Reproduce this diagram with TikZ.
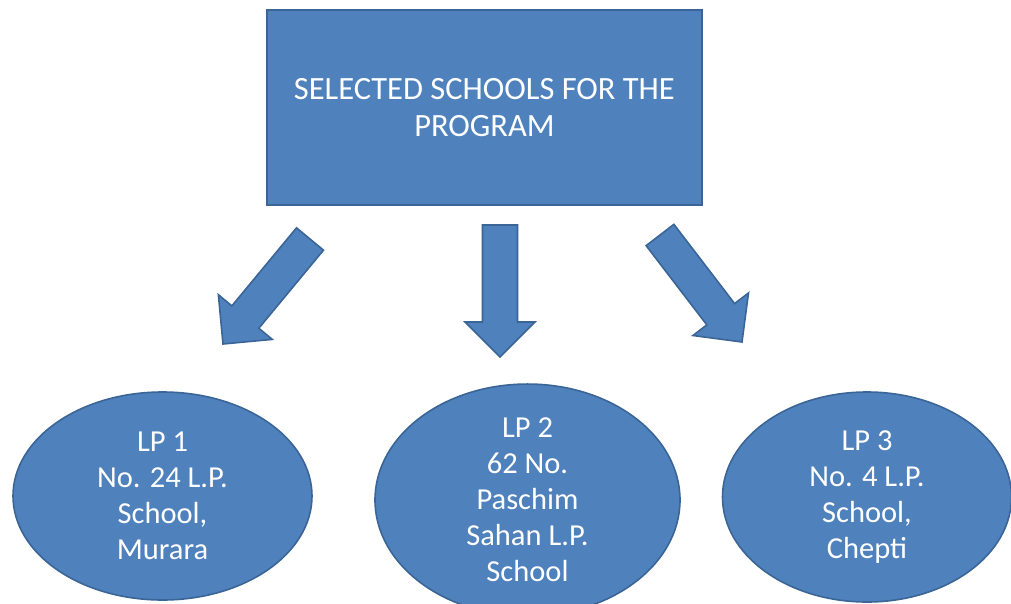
\documentclass[tikz,border=0pt]{standalone}
\usepackage{fontspec}
\setmainfont{Carlito}
\usetikzlibrary{calc,shapes.geometric}
\definecolor{boxfill}{HTML}{4F81BD}
\definecolor{boxline}{HTML}{3A6596}
\tikzset{
  shapestyle/.style={fill=boxfill, draw=boxline, line width=1.6pt},
  topbox/.style={shapestyle, rectangle, minimum width=435pt, minimum height=195pt, inner sep=0pt,
     text=white, align=center, font=\fontsize{32.5}{37}\selectfont},
  schoolell/.style={shapestyle, ellipse, inner sep=0pt, text=white, align=center,
     font=\fontsize{30.5}{36}\selectfont},
}
\newcommand\blockarrow[2]{%
  \path[shapestyle, line join=miter]
    ($(#1)!17.5pt!90:(#2)$) --
    ($($(#2)!35pt!(#1)$)!17.5pt!90:(#2)$) --
    ($($(#2)!35pt!(#1)$)!35pt!90:(#2)$) --
    (#2) --
    ($($(#2)!35pt!(#1)$)!35pt!-90:(#2)$) --
    ($($(#2)!35pt!(#1)$)!17.5pt!-90:(#2)$) --
    ($(#1)!17.5pt!-90:(#2)$) -- cycle;}
\begin{document}
\begin{tikzpicture}[x=1pt,y=-1pt]
\useasboundingbox (0,0) rectangle (1011,603);
\clip (0,0) rectangle (1011,603);
\node[topbox] (top) at (484.5,107.5) {SELECTED SCHOOLS FOR THE\\PROGRAM};
\node[schoolell, minimum width=299pt, minimum height=208pt] (lp1) at (162.5,496) {LP 1\\No. 24 L.P.\\School,\\Murara};
\node[schoolell, minimum width=305pt, minimum height=230pt] (lp2) at (527.5,500) {LP 2\\62 No.\\Paschim\\Sahan L.P.\\School};
\node[schoolell, minimum width=289pt, minimum height=210pt] (lp3) at (867,497) {LP 3\\No. 4 L.P.\\School,\\Chepti};
\coordinate (a1s) at (310,239);
\coordinate (a1e) at (223,344);
\coordinate (a2s) at (500,225);
\coordinate (a2e) at (500,357);
\coordinate (a3s) at (660,235);
\coordinate (a3e) at (742,342);
\blockarrow{a1s}{a1e}
\blockarrow{a2s}{a2e}
\blockarrow{a3s}{a3e}
\end{tikzpicture}
\end{document}
